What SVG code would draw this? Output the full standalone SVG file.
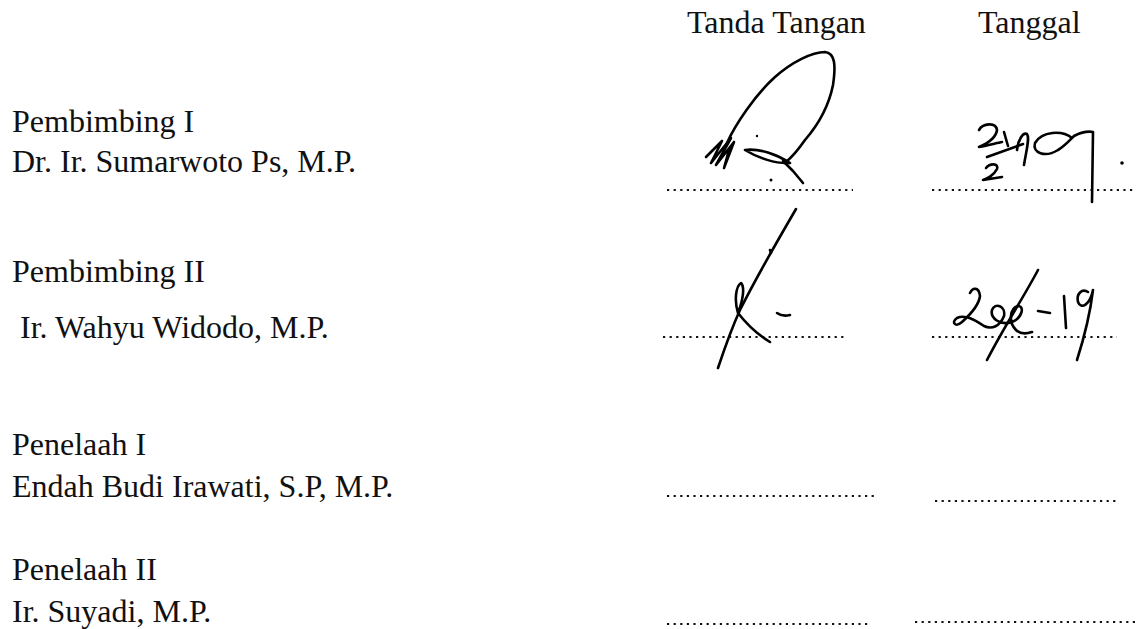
<svg xmlns="http://www.w3.org/2000/svg" width="1137" height="629" viewBox="0 0 1137 629">
<style>
text{font-family:"Liberation Serif","Times New Roman",serif;font-size:32px;fill:#111}
.dots{stroke:#111;stroke-width:2.2;stroke-dasharray:2.2 4.4;fill:none}
.ink{stroke:#000;stroke-width:2.6;fill:none;stroke-linecap:round;stroke-linejoin:round}
</style>
<rect width="1137" height="629" fill="#fff"/>
<g id="header">
<text x="687" y="33">Tanda Tangan</text>
<text x="978" y="33">Tanggal</text>
</g>
<g id="pembimbing1">
<text x="12" y="132">Pembimbing I</text>
<text x="12" y="172">Dr. Ir. Sumarwoto Ps, M.P.</text>
</g>
<g id="pembimbing2">
<text x="12" y="282">Pembimbing II</text>
<text x="12" y="338" xml:space="preserve"> Ir. Wahyu Widodo, M.P.</text>
</g>
<g id="penelaah1">
<text x="12" y="455">Penelaah I</text>
<text x="12" y="497">Endah Budi Irawati, S.P, M.P.</text>
</g>
<g id="penelaah2">
<text x="12" y="580">Penelaah II</text>
<text x="12" y="622">Ir. Suyadi, M.P.</text>
</g>
<g id="lines">
<line class="dots" x1="667" y1="190" x2="853" y2="190"/>
<line class="dots" x1="932" y1="190" x2="1135" y2="190"/>
<line class="dots" x1="663" y1="337" x2="847" y2="337"/>
<line class="dots" x1="932" y1="337" x2="1117" y2="337"/>
<line class="dots" x1="667" y1="496" x2="875" y2="496"/>
<line class="dots" x1="935" y1="501" x2="1119" y2="501"/>
<line class="dots" x1="667" y1="624" x2="870" y2="624"/>
<line class="dots" x1="915" y1="622" x2="1135" y2="622"/>
</g>
<g id="signature1">
<path class="ink" d="M727,143 C735,125 755,95 775,77 C792,62 812,52 825,52 C835,53 836,65 833,85 C829,105 818,125 805,140 C798,150 792,157 786,162"/>
<path class="ink" d="M745,150 C760,148 778,155 790,163 C776,164 758,158 745,150 Z"/>
<path class="ink" d="M783,161 L793,171 L803,183"/>
<path class="ink" d="M706,157 L722,141 L711,163 L731,138 L716,165 L734,142 L724,168 L729,150"/>
<circle cx="771" cy="180" r="1.5" fill="#000"/>
<circle cx="757" cy="136" r="1.2" fill="#000"/>
</g>
<g id="date1">
<path class="ink" d="M979,130 C983,123 996,122 997,130 C996,138 986,144 979,147 C989,145 997,143 1002,142"/>
<path class="ink" d="M1004,132 L1008,146"/>
<path class="ink" d="M987,157 L1023,144"/>
<path class="ink" d="M986,168 C990,163 999,163 997,169 C994,175 987,179 983,180 L1002,177"/>
<path class="ink" d="M1017,150 C1018,140 1023,132 1027,134 C1030,138 1026,152 1024,165"/>
<path class="ink" d="M1072,138 C1062,130 1042,131 1035,143 C1032,153 1045,158 1058,150 C1065,146 1070,140 1074,136 C1080,133 1088,131 1093,132 L1092,202"/>
<circle cx="1122" cy="163" r="1.8" fill="#000"/>
</g>
<g id="signature2">
<path class="ink" d="M796,209 C775,245 755,280 740,310 C730,332 724,350 718,368"/>
<path class="ink" d="M738,313 C734,300 736,286 741,283 C745,287 743,300 738,313 C745,322 755,333 770,342"/>
<path class="ink" d="M777,313 C781,316 786,316 790,315"/>
<path class="ink" d="M770,250 L771,253"/>
</g>
<g id="date2">
<path class="ink" d="M970,293 C973,287 979,287 980,296 C979,305 972,313 962,322 C955,328 951,322 957,318 C965,314 975,320 984,326 C992,330 1000,326 1004,316 C1006,306 995,302 992,310 C990,318 1000,326 1012,322 C1022,318 1025,306 1018,306 C1010,308 1008,322 1016,330 C1020,334 1026,334 1032,332"/>
<path class="ink" d="M1038,270 C1025,295 1005,325 987,360"/>
<path class="ink" d="M1038,311 L1050,313"/>
<path class="ink" d="M1064,296 L1066,328"/>
<path class="ink" d="M1088,292 C1082,288 1076,294 1078,302 C1081,310 1090,305 1093,290 C1090,315 1084,338 1077,360"/>
</g>
</svg>
